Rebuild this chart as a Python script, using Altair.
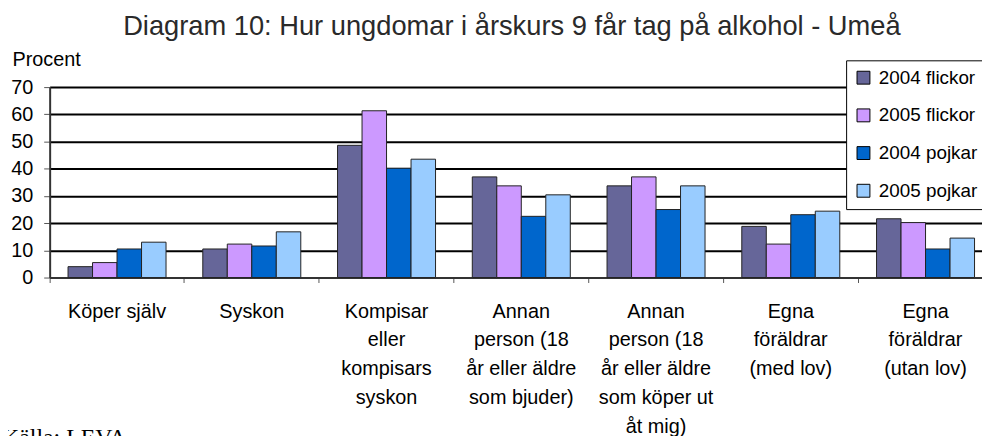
import altair as alt
import pandas as pd

# ---- data ----
categories = [
    "Köper själv",
    "Syskon",
    "Kompisar|eller|kompisars|syskon",
    "Annan|person (18|år eller äldre|som bjuder)",
    "Annan|person (18|år eller äldre|som köper ut|åt mig)",
    "Egna|föräldrar|(med lov)",
    "Egna|föräldrar|(utan lov)",
]
series = ["2004 flickor", "2005 flickor", "2004 pojkar", "2005 pojkar"]
colors = ["#666699", "#CC99FF", "#0066CC", "#99CCFF"]

v_2004_flickor = [4.0, 10.5, 48.6, 37.0, 33.7, 18.8, 21.6]
v_2005_flickor = [5.5, 12.3, 61.3, 33.7, 37.0, 12.3, 20.2]
v_2004_pojkar = [10.5, 11.6, 40.2, 22.5, 25.0, 23.1, 10.5]
v_2005_pojkar = [13.0, 16.8, 43.5, 30.4, 33.7, 24.4, 14.5]

y_ticks = [0, 10, 20, 30, 40, 50, 60, 70]
title_text = "Diagram 10: Hur ungdomar i årskurs 9 får tag på alkohol - Umeå"
source_text = "Källa: LEVA"
y_title = "Procent"

rows = []
for s, vals in zip(series, [v_2004_flickor, v_2005_flickor, v_2004_pojkar, v_2005_pojkar]):
    for c, v in zip(categories, vals):
        rows.append({"kategori": c, "serie": s, "procent": v})
df = pd.DataFrame(rows)

FONT = "Liberation Sans"

bars = alt.Chart(df).mark_bar(stroke="#222222", strokeWidth=1).encode(
    x=alt.X(
        "kategori:N",
        sort=categories,
        scale=alt.Scale(range=[0, 951], paddingInner=0, paddingOuter=0),
        axis=alt.Axis(
            title=None,
            labelExpr="split(datum.label, '|')",
            labelAngle=0,
            bandPosition=0,
            labelOverlap=False,
            labelFontSize=20,
            labelLineHeight=29,
            labelPadding=19,
            labelColor="black",
            labelLimit=300,
            tickSize=5,
            tickColor="#555555",
            domainColor="#333333",
            domainWidth=2,
            grid=False,
        ),
    ),
    xOffset=alt.XOffset(
        "serie:N", sort=series, scale=alt.Scale(paddingInner=0, paddingOuter=0.75)
    ),
    y=alt.Y(
        "procent:Q",
        scale=alt.Scale(domain=[0, 70], nice=False),
        axis=alt.Axis(
            values=y_ticks,
            grid=True,
            gridColor="black",
            gridWidth=2,
            domainColor="#333333",
            domainWidth=2,
            tickColor="#555555",
            tickSize=6,
            labelFontSize=20,
            labelPadding=11,
            labelColor="black",
            title=y_title,
            titleAngle=0,
            titleAlign="left",
            titleBaseline="alphabetic",
            titleX=-38,
            titleY=-22,
            titleFontSize=20,
            titleFontWeight="normal",
            titleColor="black",
        ),
    ),
    color=alt.Color(
        "serie:N",
        sort=series,
        scale=alt.Scale(domain=series, range=colors),
        legend=alt.Legend(
            title=None,
            orient="none",
            legendX=803,
            legendY=-27,
            symbolType="square",
            symbolSize=169,
            symbolStrokeColor="black",
            symbolStrokeWidth=1,
            symbolOpacity=1,
            labelFontSize=19,
            labelFont=FONT,
            labelColor="black",
            labelOffset=6,
            rowPadding=18,
            padding=8,
            strokeColor="black",
            fillColor="white",
            cornerRadius=0,
        ),
    ),
)

title_layer = alt.Chart(pd.DataFrame({"t": [title_text]})).mark_text(
    align="center", baseline="alphabetic", fontSize=27.5, font=FONT, color="#2a2a2a"
).encode(text="t:N", x=alt.value(466), y=alt.value(-53))

source_layer = alt.Chart(pd.DataFrame({"t": [source_text]})).mark_text(
    align="left", baseline="alphabetic", fontSize=24, font="Liberation Serif", color="black"
).encode(text="t:N", x=alt.value(-48), y=alt.value(361))

chart = (
    alt.layer(bars, title_layer, source_layer)
    .properties(
        width=940,
        height=192,
        autosize=alt.AutoSizeParams(type="none"),
        padding={"left": 42, "top": 78, "right": 0, "bottom": 158},
    )
    .configure_view(stroke=None)
    .configure_axis(labelFont=FONT, titleFont=FONT)
)

chart.save("out.html", embed_options={"renderer": "svg", "actions": False})
